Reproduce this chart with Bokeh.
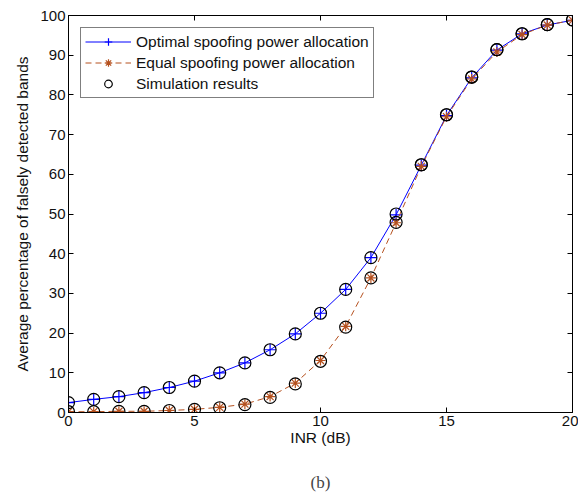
from bokeh.plotting import figure
from bokeh.models import LinearAxis, Range1d, FixedTicker, Legend, LegendItem, Title
from bokeh.embed import file_html
from bokeh.resources import INLINE

inr = list(range(0, 21))
optimal = [2.5, 3.3, 4.0, 5.0, 6.3, 7.9, 10.0, 12.5, 15.8, 19.8, 25.0, 31.0, 39.0,
           49.8, 62.3, 74.8, 84.3, 91.3, 95.4, 97.6, 98.8]
equal = [0.2, 0.2, 0.3, 0.3, 0.5, 0.8, 1.3, 2.1, 4.0, 7.4, 13.1, 21.7, 33.9,
         47.8, 62.0, 74.5, 84.0, 90.8, 95.2, 97.6, 98.8]
sim_opt = [2.5, 3.3, 4.0, 5.0, 6.3, 7.9, 10.0, 12.5, 15.8, 19.8, 25.0, 31.0, 39.0,
           50.0, 62.4, 75.0, 84.5, 91.4, 95.4, 97.7, 98.9]
sim_eq = [0.2, 0.2, 0.3, 0.3, 0.5, 0.8, 1.2, 2.0, 3.8, 7.2, 12.9, 21.5, 33.9,
          47.9, 62.4, 75.0, 84.5, 91.4, 95.4, 97.7, 98.9]
x_ticks = [0, 5, 10, 15, 20]
y_ticks = [0, 10, 20, 30, 40, 50, 60, 70, 80, 90, 100]

BLUE = "#0000ff"
BROWN = "#b5501e"
FONT = "Liberation Sans"

p = figure(frame_width=504, frame_height=397, output_backend="svg", toolbar_location=None,
           x_range=Range1d(0, 20), y_range=Range1d(0, 100),
           min_border_left=68, min_border_right=6, min_border_top=15,
           min_border_bottom=10)
p.background_fill_color = "white"
p.border_fill_color = "white"
p.outline_line_color = "black"
p.outline_line_width = 1
p.xgrid.visible = False
p.ygrid.visible = False

def style_axis(ax, ticks, show_labels=True):
    ax.ticker = FixedTicker(ticks=ticks)
    ax.major_tick_in = 5
    ax.major_tick_out = 0
    ax.minor_tick_in = 0
    ax.minor_tick_out = 0
    ax.axis_line_color = "black"
    ax.major_tick_line_color = "black"
    ax.major_label_text_font = FONT
    ax.major_label_text_font_size = "15px"
    ax.major_label_text_color = "#111111"
    ax.major_label_standoff = 3
    if not show_labels:
        ax.major_label_overrides = {t: "" for t in ticks}
        ax.major_label_standoff = 0

style_axis(p.xaxis[0], x_ticks)
style_axis(p.yaxis[0], y_ticks)
p.xaxis[0].axis_label = "INR (dB)"
p.yaxis[0].axis_label = "Average percentage of falsely detected bands"
for ax in (p.xaxis[0], p.yaxis[0]):
    ax.axis_label_text_font = FONT
    ax.axis_label_text_font_size = "15.5px"
    ax.axis_label_text_font_style = "normal"
    ax.axis_label_text_color = "#111111"
p.xaxis[0].axis_label_standoff = 0
p.yaxis[0].axis_label_standoff = 6

top = LinearAxis()
style_axis(top, x_ticks, show_labels=False)
p.add_layout(top, "above")
right = LinearAxis()
style_axis(right, y_ticks, show_labels=False)
p.add_layout(right, "right")

l_opt = p.line(inr, optimal, line_color=BLUE, line_width=1)
m_opt = p.scatter(inr, optimal, marker="cross", size=12, line_color=BLUE, line_width=1.2)
l_eq = p.line(inr, equal, line_color=BROWN, line_width=1, line_dash="6 4")
m_eq = p.scatter(inr, equal, marker="asterisk", size=10, line_color=BROWN, line_width=1.2)
c1 = p.scatter(inr, sim_opt, marker="circle", size=12, fill_alpha=0, line_color="black", line_width=1.2)
c2 = p.scatter(inr, sim_eq, marker="circle", size=12, fill_alpha=0, line_color="black", line_width=1.2)

legend = Legend(items=[
    LegendItem(label="Optimal spoofing power allocation", renderers=[l_opt, m_opt]),
    LegendItem(label="Equal spoofing power allocation", renderers=[l_eq, m_eq]),
    LegendItem(label="Simulation results", renderers=[c1]),
], location="top_left")
legend.label_text_font = FONT
legend.label_text_font_size = "15.5px"
legend.label_text_color = "#111111"
legend.border_line_color = "black"
legend.border_line_width = 1
legend.background_fill_alpha = 1
legend.glyph_width = 46
legend.glyph_height = 19
legend.label_standoff = 5
legend.spacing = 2
legend.padding = 4
legend.margin = 12
legend.label_height = 19
p.add_layout(legend, "center")

cap = Title(text="(b)", align="center", text_font="Liberation Serif",
            text_font_size="17px", text_font_style="normal", standoff=44)
p.add_layout(cap, "below")

open("out.html", "w").write(file_html(p, INLINE))
